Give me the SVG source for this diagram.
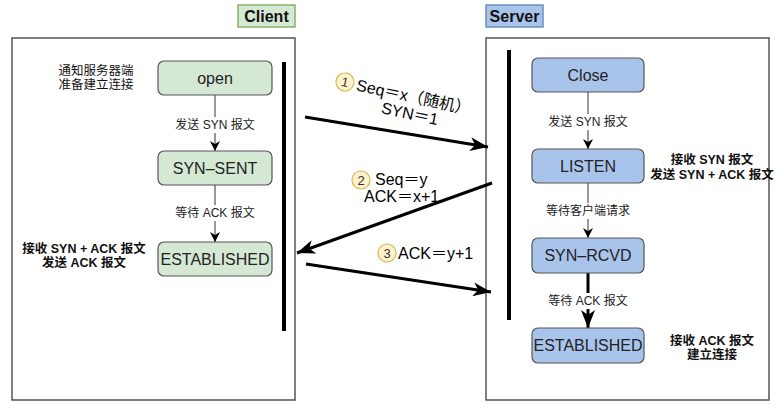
<svg xmlns="http://www.w3.org/2000/svg" width="781" height="415" viewBox="0 0 781 415">
<defs>
<marker id="thin" markerUnits="userSpaceOnUse" markerWidth="10" markerHeight="10" viewBox="0 0 10 10" refX="10" refY="5" orient="auto">
<path d="M0,0 L10,5 L0,10 L3,5 Z" fill="#000"/>
</marker>
<marker id="thick" markerUnits="userSpaceOnUse" markerWidth="18" markerHeight="14" viewBox="0 0 18 14" refX="18" refY="7" orient="auto">
<path d="M0,0 L18,7 L0,14 L5,7 Z" fill="#000"/>
</marker>
</defs>
<style>
text{font-family:"Liberation Sans","Noto Sans CJK SC",Arial,sans-serif;}
.frame{fill:#fff;stroke:#555;stroke-width:1.5;}
.g{fill:#d5e8d4;stroke:#555;stroke-width:1.2;}
.b{fill:#a9c4eb;stroke:#555;stroke-width:1.2;}
.nt{font-size:16px;fill:#222;text-anchor:middle;}
.el{font-size:12px;fill:#222;text-anchor:middle;}
.lbg{fill:#fff;}
.ann{font-size:12.5px;fill:#111;text-anchor:middle;}
.annb{font-size:12.5px;fill:#111;text-anchor:middle;font-weight:bold;}
.bar{stroke:#000;stroke-width:4;}
.msg{stroke:#000;stroke-width:3;fill:none;marker-end:url(#thick);}
.thin{stroke:#333;stroke-width:1;fill:none;marker-end:url(#thin);}
.ml{font-size:16px;fill:#000;}
.num{fill:#fff2cc;stroke:#d6b656;stroke-width:1.2;}
.nn{font-size:13px;fill:#333;text-anchor:middle;}
.title{font-size:16px;font-weight:bold;fill:#111;text-anchor:middle;}
</style>

<g id="client-label">
<rect x="238" y="5" width="57" height="22" fill="#d5e8d4" stroke="#82b366" stroke-width="1.5"/>
<text class="title" x="266.5" y="22">Client</text>
</g>
<g id="server-label">
<rect x="486" y="5" width="57" height="22" fill="#a9c4eb" stroke="#6c8ebf" stroke-width="1.5"/>
<text class="title" x="514.5" y="22">Server</text>
</g>

<g id="client-frame"><rect class="frame" x="12" y="38" width="283" height="362"/></g>
<g id="server-frame"><rect class="frame" x="486" y="38" width="283" height="362"/></g>

<g id="client-lifeline"><line class="bar" x1="284" y1="62" x2="284" y2="331"/></g>
<g id="server-lifeline"><line class="bar" x1="509" y1="50" x2="509" y2="320"/></g>

<g id="connectors">
<line class="thin" x1="215" y1="95" x2="215" y2="151"/>
<line class="thin" x1="215" y1="185" x2="215" y2="242"/>
<line class="thin" x1="588" y1="92" x2="588" y2="149"/>
<line class="thin" x1="588" y1="183" x2="588" y2="238"/>
<line class="msg" x1="588" y1="273" x2="588" y2="328"/>
<line class="msg" x1="305" y1="117" x2="488" y2="147"/>
<line class="msg" x1="492" y1="183" x2="297" y2="253"/>
<line class="msg" x1="306" y1="264" x2="491" y2="292"/>
</g>

<g id="edge-labels">
<rect class="lbg" x="174" y="117" width="82" height="16"/>
<text class="el" x="215" y="129">发送 SYN 报文</text>
<rect class="lbg" x="174" y="205" width="82" height="16"/>
<text class="el" x="215" y="217">等待 ACK 报文</text>
<rect class="lbg" x="547" y="114" width="82" height="16"/>
<text class="el" x="588" y="126">发送 SYN 报文</text>
<rect class="lbg" x="545" y="203" width="86" height="16"/>
<text class="el" x="588" y="215">等待客户端请求</text>
<rect class="lbg" x="547" y="293" width="82" height="16"/>
<text class="el" x="588" y="305">等待 ACK 报文</text>
</g>

<g id="node-open"><rect class="g" x="158" y="61" width="114" height="34" rx="6"/><text class="nt" x="215" y="84">open</text></g>
<g id="node-syn-sent"><rect class="g" x="158" y="151" width="114" height="34" rx="6"/><text class="nt" x="215" y="174">SYN–SENT</text></g>
<g id="node-client-established"><rect class="g" x="158" y="242" width="114" height="34" rx="6"/><text class="nt" x="215" y="265">ESTABLISHED</text></g>

<g id="node-close"><rect class="b" x="532" y="58" width="112" height="34" rx="6"/><text class="nt" x="588" y="81">Close</text></g>
<g id="node-listen"><rect class="b" x="532" y="149" width="112" height="34" rx="6"/><text class="nt" x="588" y="172">LISTEN</text></g>
<g id="node-syn-rcvd"><rect class="b" x="532" y="238" width="112" height="35" rx="6"/><text class="nt" x="588" y="261">SYN–RCVD</text></g>
<g id="node-server-established"><rect class="b" x="532" y="328" width="112" height="35" rx="6"/><text class="nt" x="588" y="351">ESTABLISHED</text></g>

<g id="annotations">
<text class="ann" x="96" y="75">通知服务器端</text>
<text class="ann" x="96" y="89">准备建立连接</text>
<text class="annb" x="84" y="253">接收 SYN + ACK 报文</text>
<text class="annb" x="84" y="267">发送 ACK 报文</text>
<text class="annb" x="712" y="164">接收 SYN 报文</text>
<text class="annb" x="712" y="179">发送 SYN + ACK 报文</text>
<text class="annb" x="712" y="345">接收 ACK 报文</text>
<text class="annb" x="712" y="359">建立连接</text>
</g>

<g id="msg1-label" transform="translate(345,82) rotate(12)">
<circle class="num" cx="0" cy="0" r="9"/>
<text class="nn" x="0" y="4.5">1</text>
<text class="ml" x="12" y="6">Seq＝x（随机）</text>
<text class="ml" x="70" y="23" text-anchor="middle">SYN＝1</text>
</g>
<g id="msg2-label">
<circle class="num" cx="361" cy="180" r="9"/>
<text class="nn" x="361" y="184.5">2</text>
<text class="ml" x="375" y="185">Seq＝y</text>
<text class="ml" x="364" y="202">ACK＝x+1</text>
</g>
<g id="msg3-label">
<circle class="num" cx="387" cy="253" r="9"/>
<text class="nn" x="387" y="257.5">3</text>
<text class="ml" x="398" y="259">ACK＝y+1</text>
</g>
</svg>
